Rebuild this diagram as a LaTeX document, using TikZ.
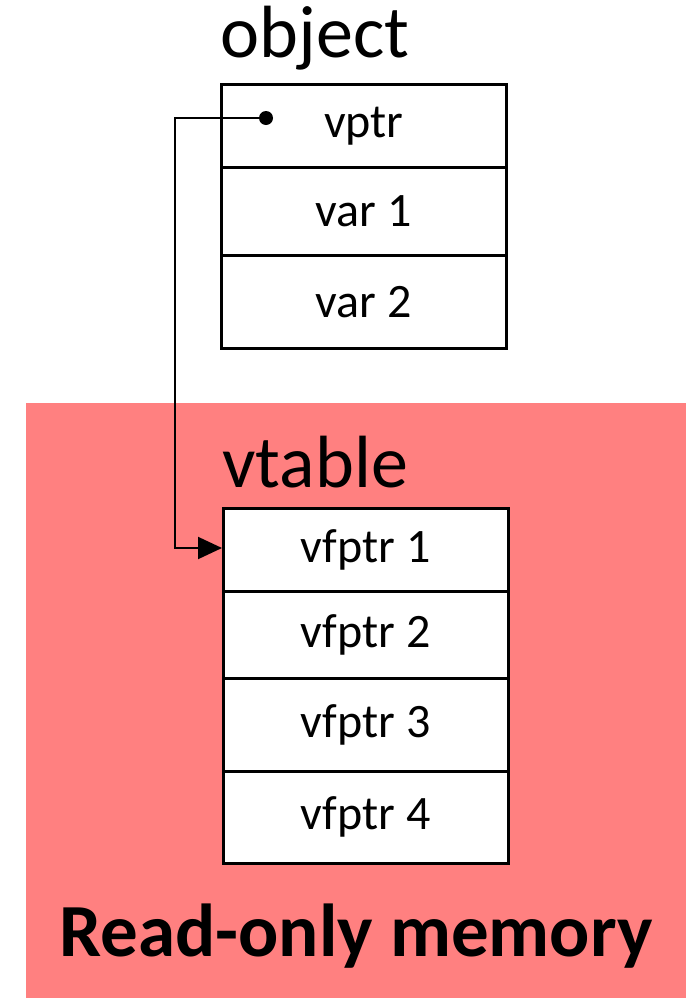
\documentclass[tikz,border=0pt]{standalone}
\usepackage{fontspec}
\setmainfont{Carlito}
\usetikzlibrary{arrows.meta}
\definecolor{romred}{HTML}{FF8080}
\begin{document}
\begin{tikzpicture}[x=1pt,y=-1pt,
  cell/.style={draw=black,line width=2.5pt,fill=white,minimum width=285pt,inner sep=0pt,font=\fontsize{48}{56}\selectfont,anchor=north west},
  title/.style={font=\fontsize{74}{82}\selectfont,inner sep=0pt},
  link/.style={line width=2pt}]
\useasboundingbox (0,0) rectangle (692,999);
% read-only memory area
\fill[romred] (26,403) rectangle (686,998);
\node[font=\fontsize{75}{84}\selectfont\bfseries,inner sep=0pt] (rom) at (356,936) {Read-only memory};
% object layout
\node[title] (objtitle) at (315,38) {object};
\node[cell,minimum height=83pt] (vptr) at (220,83) {vptr};
\node[cell,minimum height=88pt] (var1) at (220,166) {var 1};
\node[cell,minimum height=93pt] (var2) at (220,254) {var 2};
% vtable layout
\node[title] (vttitle) at (315,462) {vtable};
\node[cell,minimum height=83pt] (vf1) at (222,507) {vfptr 1};
\node[cell,minimum height=87pt] (vf2) at (222,590) {vfptr 2};
\node[cell,minimum height=93pt] (vf3) at (222,677) {vfptr 3};
\node[cell,minimum height=92pt] (vf4) at (222,770) {vfptr 4};
% pointer from vptr to the first vtable slot
\coordinate (src) at (266,118);
\coordinate (bend1) at (175,118);
\coordinate (bend2) at (175,548);
\fill (src) circle (7pt);
\draw[link,-{Triangle[length=24pt,width=22pt]}] (src) -- (bend1) -- (bend2) -- (vf1.west |- bend2);
\end{tikzpicture}
\end{document}
